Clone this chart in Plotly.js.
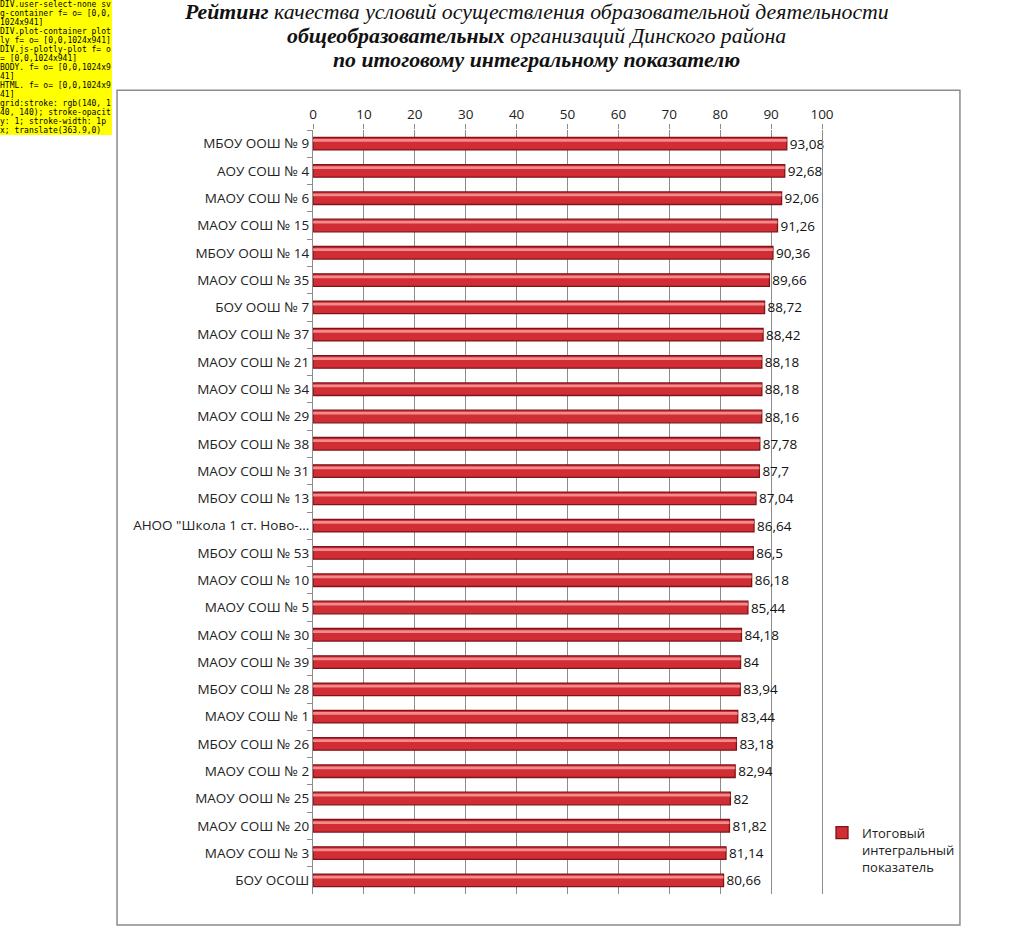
<!DOCTYPE html>
<html><head><meta charset="utf-8">
<script src="https://cdn.plot.ly/plotly-3.0.1.min.js"></script>
<style>body{margin:0;background:#fff}#chart{width:1024px;height:941px}#dbg{position:absolute;left:0;top:0;width:112px;font:8px monospace;background:#ff0;word-break:break-all;white-space:pre-wrap}</style>
</head><body><div id="chart"></div><div id="dbg"></div>
<script>
const categories = ["МБОУ ООШ № 9","АОУ СОШ № 4","МАОУ СОШ № 6","МАОУ СОШ № 15","МБОУ ООШ № 14","МАОУ СОШ № 35","БОУ ООШ № 7","МАОУ СОШ № 37","МАОУ СОШ № 21","МАОУ СОШ № 34","МАОУ СОШ № 29","МБОУ СОШ № 38","МАОУ СОШ № 31","МБОУ СОШ № 13","АНОО \"Школа 1 ст. Ново-...","МБОУ СОШ № 53","МАОУ СОШ № 10","МАОУ СОШ № 5","МАОУ СОШ № 30","МАОУ СОШ № 39","МБОУ СОШ № 28","МАОУ СОШ № 1","МБОУ СОШ № 26","МАОУ СОШ № 2","МАОУ ООШ № 25","МАОУ СОШ № 20","МАОУ СОШ № 3","БОУ ОСОШ"];
const values = [93.08,92.68,92.06,91.26,90.36,89.66,88.72,88.42,88.18,88.18,88.16,87.78,87.7,87.04,86.64,86.5,86.18,85.44,84.18,84,83.94,83.44,83.18,82.94,82,81.82,81.14,80.66];
const seriesName = "Итоговый<br>интегральный<br>показатель";
const xTicks = [0,10,20,30,40,50,60,70,80,90,100];
const titleLines = [
  "<b>Рейтинг</b> качества условий осуществления образовательной деятельности",
  "<b>общеобразовательных</b> организаций Динского района",
  "<b>по итоговому интегральному показателю</b>"
];

const labels = values.map(v => String(v).replace('.', ','));
const font = "Open Sans, Liberation Sans, sans-serif";
const serif = "Liberation Serif, DejaVu Serif, serif";
const gridColor = '#8c8c8c';

const mainBar = {
  type: 'bar', orientation: 'h',
  x: values, y: categories,
  name: seriesName,
  width: 0.46,
  marker: {color: '#d02d34', line: {color: '#7d1419', width: 1.3}},
  text: labels, textposition: 'outside', cliponaxis: false, constraintext: 'none',
  textfont: {family: font, size: 13.5, color: '#111'},
  hoverinfo: 'x+y'
};
const highlight = {
  type: 'bar', orientation: 'h',
  x: values, y: categories,
  showlegend: false,
  width: 0.1, offset: -0.17,
  marker: {color: 'rgba(255,170,170,0.75)', line: {width: 0}},
  hoverinfo: 'skip'
};

const titleY = [1.1545, 1.1225, 1.0915];
const annotations = titleLines.map((t, i) => ({
  text: t, xref: 'paper', yref: 'paper', x: 0.44, y: titleY[i],
  xanchor: 'center', yanchor: 'middle', showarrow: false,
  font: {family: serif, size: 21.8, color: '#111', style: 'italic'}
}));

const layout = {
  width: 1024, height: 941,
  margin: {l: 313, r: 202, t: 130, b: 47},
  barmode: 'overlay',
  showlegend: true,
  legend: {x: 1.0, y: 0.058, xanchor: 'left', yanchor: 'middle', valign: 'top',
    itemwidth: 30, tracegroupgap: 0, bgcolor: 'rgba(0,0,0,0)',
    font: {family: font, size: 13, color: '#222'}},
  xaxis: {
    side: 'top', range: [0, 100], tickvals: xTicks, ticktext: xTicks.map(String),
    showgrid: true, gridcolor: gridColor, gridwidth: 1,
    zeroline: false, showline: false, ticks: 'outside', ticklen: 5, tickcolor: gridColor,
    tickfont: {family: font, size: 13.5, color: '#222'}
  },
  yaxis: {
    type: 'category', autorange: 'reversed',
    showline: true, mirror: true, linecolor: gridColor, linewidth: 1,
    ticks: 'outside', ticklen: 5, tickcolor: gridColor, tickson: 'boundaries',
    showgrid: false, tickfont: {family: font, size: 13.5, color: '#222'}
  },
  annotations: annotations,
  shapes: [{
    type: 'rect', xref: 'paper', yref: 'paper',
    x0: -0.385, x1: 1.271, y0: -0.0406, y1: 1.052,
    line: {color: gridColor, width: 1.5}, fillcolor: 'rgba(0,0,0,0)', layer: 'above'
  }]
};

Plotly.newPlot('chart', [mainBar, highlight], layout, {displayModeBar: false, staticPlot: true}).then(() => {
  const els = document.elementsFromPoint(567, 157);
  const first = els[0];
  if (!(first && first.classList && first.classList.contains('xgrid'))) {
    let s = '';
    els.slice(0, 6).forEach(e => {
      const b = e.getBoundingClientRect();
      s += e.tagName + '.' + (e.getAttribute('class') || '') + ' f=' + (e.style && e.style.fill) + ' o=' + (e.style && e.style.opacity) + ' [' + Math.round(b.left) + ',' + Math.round(b.top) + ',' + Math.round(b.width) + 'x' + Math.round(b.height) + ']\n';
    });
    const g = document.querySelector('.xgrid');
    if (g) s += 'grid:' + g.getAttribute('style') + ' ' + g.getAttribute('transform');
    document.getElementById('dbg').textContent = s;
  }
});
</script></body></html>
